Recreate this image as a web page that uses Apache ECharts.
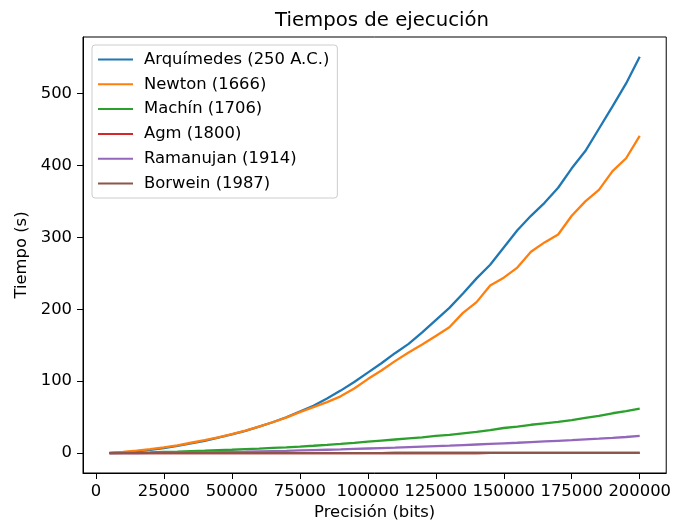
<!DOCTYPE html>
<html>
<head>
<meta charset="utf-8">
<script src="https://cdn.jsdelivr.net/npm/echarts@6/dist/echarts.min.js"></script>
<style>
html,body{margin:0;padding:0;background:#fff;}
#chart{width:674px;height:527px;}
</style>
</head>
<body>
<div id="chart"></div>
<script>
const xs = [5000,10000,15000,20000,25000,30000,35000,40000,45000,50000,
  55000,60000,65000,70000,75000,80000,85000,90000,95000,100000,
  105000,110000,115000,120000,125000,130000,135000,140000,145000,150000,
  155000,160000,165000,170000,175000,180000,185000,190000,195000,200000];
const arquimedes = [0.3,1,2.5,4.5,7,10,13.5,17,21.5,26,
  31,37,43,50,58,66,76,87,99,112,
  125,139,152,168,185,202,222,243,262,286,
  310,330,348,369,396,420,451,482,514,551];
const newton = [0.5,1.8,3.5,5.5,8,11,14.5,18,22,26.5,
  31.5,37,43,49.5,57,64,71,79,90,103,
  115,128,140,151,163,175,195,210,233,244,
  258,280,293,304,330,350,366,392,410,441];
const machin = [0.2,0.5,0.8,1.2,1.7,2.2,2.8,3.4,4.1,4.8,
  5.6,6.4,7.3,8.2,9.2,10.3,11.5,12.8,14.3,16,
  17.5,19,20.5,22,24,25.5,27.5,29.5,32,35,
  37,39.5,41.5,43.5,46,49,52,55.5,58.5,62];
const agm = [0.01,0.02,0.03,0.04,0.05,0.06,0.07,0.08,0.09,0.1,
  0.11,0.12,0.13,0.14,0.15,0.16,0.17,0.18,0.19,0.2,
  0.21,0.22,0.23,0.24,0.25,0.26,0.27,0.28,0.29,0.3,
  0.31,0.32,0.33,0.34,0.35,0.36,0.37,0.38,0.39,0.4];
const ramanujan = [0.05,0.1,0.2,0.3,0.5,0.7,0.9,1.2,1.5,1.8,
  2.1,2.5,2.9,3.3,3.8,4.3,4.8,5.3,5.9,6.5,
  7.1,7.7,8.4,9.1,9.8,10.5,11.3,12.1,12.9,13.7,
  14.5,15.4,16.3,17.2,18.1,19.1,20.1,21.2,22.5,24];
const borwein = [0.01,0.02,0.03,0.04,0.05,0.06,0.07,0.08,0.09,0.1,
  0.11,0.12,0.13,0.14,0.15,0.16,0.17,0.18,0.19,0.2,
  0.21,0.22,0.23,0.24,0.25,0.26,0.27,0.28,0.29,0.3,
  0.31,0.32,0.33,0.34,0.35,0.36,0.37,0.38,0.39,0.4];
const seriesNames = ['Arquímedes (250 A.C.)','Newton (1666)','Machín (1706)','Agm (1800)','Ramanujan (1914)','Borwein (1987)'];
const seriesValues = [arquimedes, newton, machin, agm, ramanujan, borwein];
const colors = ['#1f77b4','#ff7f0e','#2ca02c','#d62728','#9467bd','#8c564b'];
const xTicks = [0,25000,50000,75000,100000,125000,150000,175000,200000];
const yTicks = [0,100,200,300,400,500];

const FONT = 'DejaVu Sans';
const FS = 16.4;
const chart = echarts.init(document.getElementById('chart'), null, {renderer:'canvas'});
chart.setOption({
  animation: false,
  backgroundColor: '#fff',
  textStyle: {fontFamily: FONT, color: '#000'},
  title: {
    text: 'Tiempos de ejecución',
    left: 377, top: 6, textAlign: 'center',
    textStyle: {fontFamily: FONT, fontSize: 19.7, fontWeight: 'normal', color: '#000'}
  },
  grid: {left: 83, top: 37, right: 3, bottom: 54, show: true, borderColor: '#000', borderWidth: 1, backgroundColor: 'transparent'},
  legend: {
    orient: 'vertical', left: 92, top: 45,
    itemWidth: 35, itemHeight: 17, itemGap: 7.8,
    padding: [6, 8, 6, 5],
    backgroundColor: 'rgba(255,255,255,0.8)',
    borderColor: '#cccccc', borderWidth: 1, borderRadius: 3,
    itemStyle: {opacity: 0},
    textStyle: {fontFamily: FONT, fontSize: FS, color: '#000', padding: [0,0,0,6], lineHeight: 17},
    data: seriesNames
  },
  xAxis: {
    type: 'value', min: -4750, max: 209750,
    name: 'Precisión (bits)', nameLocation: 'middle', nameGap: 32,
    nameTextStyle: {fontFamily: FONT, fontSize: FS, color: '#000'},
    axisLine: {show: true, onZero: false, lineStyle: {color: '#000', width: 1}},
    axisTick: {show: true, inside: false, length: 6, customValues: xTicks, lineStyle: {color: '#000'}},
    axisLabel: {show: true, margin: 11, fontFamily: FONT, fontSize: FS, color: '#000', customValues: xTicks,
      formatter: v => String(v)},
    splitLine: {show: false}
  },
  yAxis: {
    type: 'value', min: -27.55, max: 578.55,
    name: 'Tiempo (s)', nameLocation: 'middle', nameGap: 52,
    nameTextStyle: {fontFamily: FONT, fontSize: FS, color: '#000'},
    axisLine: {show: true, onZero: false, lineStyle: {color: '#000', width: 1}},
    axisTick: {show: true, inside: false, length: 6, customValues: yTicks, lineStyle: {color: '#000'}},
    axisLabel: {show: true, margin: 11, fontFamily: FONT, fontSize: FS, color: '#000', customValues: yTicks,
      formatter: v => String(v)},
    splitLine: {show: false}
  },
  series: seriesNames.map((n, i) => ({
    name: n, type: 'line', symbol: 'none', showSymbol: false,
    color: colors[i],
    lineStyle: {color: colors[i], width: 2.3},
    data: xs.map((x, j) => [x, seriesValues[i][j]])
  }))
});
</script>
</body>
</html>
